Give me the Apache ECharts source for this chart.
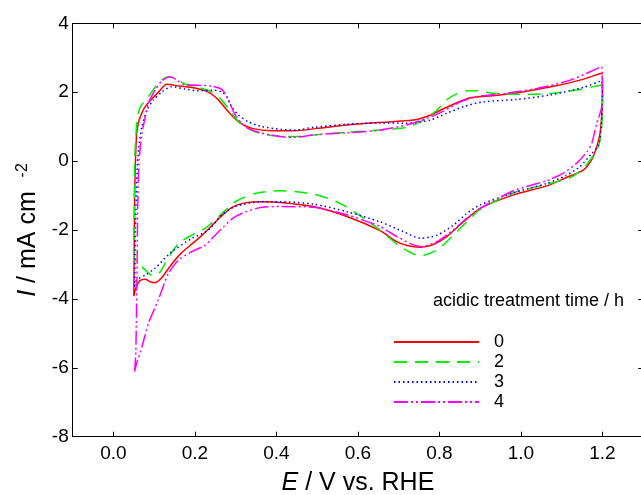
<!DOCTYPE html>
<html>
<head>
<meta charset="utf-8">
<script src="https://cdn.jsdelivr.net/npm/echarts@6/dist/echarts.min.js"></script>
<style>
  html, body { margin: 0; padding: 0; background: #fff; }
  #chart { width: 641px; height: 495px; }
</style>
</head>
<body>
<div id="chart"></div>
<script>
// potential E (V vs. RHE) and current I (mA cm-2), loop: anodic then cathodic
var e0 = [0.050, 0.051, 0.052, 0.054, 0.057, 0.062, 0.070, 0.078, 0.090, 0.111, 0.131, 0.160, 0.200, 0.233, 0.258, 0.282, 0.307, 0.340, 0.389, 0.446, 0.500, 0.573, 0.650, 0.736, 0.777, 0.810, 0.840, 0.876, 0.930, 1.000, 1.080, 1.145, 1.198,
  1.200, 1.198, 1.194, 1.186, 1.174, 1.153, 1.113, 1.063, 0.982, 0.900, 0.859, 0.818, 0.785, 0.753, 0.720, 0.695, 0.654, 0.573, 0.491, 0.409, 0.364, 0.320, 0.290, 0.260, 0.235, 0.213, 0.188, 0.164, 0.139, 0.119, 0.102, 0.090, 0.078, 0.065, 0.055, 0.050]
var i0 = [-3.92, -2.5, -1.0, 0.0, 0.8, 1.15, 1.40, 1.58, 1.75, 2.01, 2.23, 2.18, 2.12, 2.00, 1.77, 1.43, 1.14, 0.95, 0.88, 0.88, 0.95, 1.05, 1.12, 1.19, 1.33, 1.52, 1.68, 1.84, 1.90, 2.00, 2.17, 2.35, 2.55,
  2.0, 1.3, 0.8, 0.42, 0.05, -0.26, -0.47, -0.72, -0.98, -1.37, -1.76, -2.19, -2.42, -2.50, -2.45, -2.34, -2.02, -1.61, -1.32, -1.20, -1.18, -1.22, -1.35, -1.65, -1.95, -2.20, -2.45, -2.70, -3.05, -3.38, -3.53, -3.50, -3.43, -3.47, -3.69, -3.92]

var e2 = [0.050, 0.051, 0.052, 0.055, 0.058, 0.065, 0.075, 0.086, 0.110, 0.135, 0.151, 0.176, 0.209, 0.241, 0.266, 0.290, 0.315, 0.348, 0.389, 0.446, 0.491, 0.573, 0.654, 0.720, 0.761, 0.794, 0.818, 0.845, 0.870, 0.892, 0.933, 1.000, 1.080, 1.145, 1.198,
  1.200, 1.198, 1.192, 1.182, 1.174, 1.153, 1.121, 1.063, 0.982, 0.900, 0.867, 0.834, 0.794, 0.753, 0.704, 0.654, 0.597, 0.548, 0.491, 0.409, 0.348, 0.299, 0.258, 0.225, 0.192, 0.160, 0.131, 0.115, 0.098, 0.078, 0.060, 0.053, 0.050]
var i2 = [-2.9, -1.5, 0.0, 0.7, 1.2, 1.55, 1.72, 1.87, 2.26, 2.45, 2.40, 2.24, 2.14, 2.01, 1.77, 1.39, 1.05, 0.85, 0.74, 0.71, 0.76, 0.84, 0.90, 0.98, 1.19, 1.48, 1.78, 1.97, 2.04, 2.04, 1.97, 1.94, 1.97, 2.08, 2.21,
  1.6, 1.0, 0.5, 0.25, 0.10, -0.21, -0.48, -0.67, -0.92, -1.40, -1.76, -2.15, -2.58, -2.75, -2.48, -2.00, -1.52, -1.18, -0.96, -0.86, -0.94, -1.18, -1.61, -1.95, -2.15, -2.39, -2.87, -3.21, -3.34, -3.16, -2.95, -2.87, -2.9]

var e3 = [0.052, 0.054, 0.056, 0.058, 0.062, 0.070, 0.082, 0.098, 0.119, 0.143, 0.176, 0.209, 0.241, 0.266, 0.278, 0.290, 0.307, 0.331, 0.364, 0.413, 0.446, 0.491, 0.573, 0.654, 0.720, 0.777, 0.818, 0.859, 0.908, 0.990, 1.072, 1.153, 1.198,
  1.200, 1.197, 1.190, 1.172, 1.145, 1.110, 1.063, 0.982, 0.900, 0.867, 0.834, 0.794, 0.753, 0.712, 0.654, 0.573, 0.491, 0.409, 0.364, 0.299, 0.266, 0.233, 0.192, 0.143, 0.102, 0.078, 0.057, 0.052]
var i3 = [-3.65, -2.0, -1.0, -0.3, 0.4, 1.00, 1.48, 1.77, 2.01, 2.16, 2.09, 2.04, 2.06, 2.01, 1.87, 1.58, 1.34, 1.14, 1.00, 0.92, 0.90, 0.98, 1.07, 1.11, 1.10, 1.19, 1.39, 1.58, 1.72, 1.79, 1.92, 2.14, 2.33,
  1.8, 1.0, 0.45, 0.2, -0.16, -0.42, -0.65, -0.92, -1.27, -1.52, -1.86, -2.15, -2.24, -2.05, -1.76, -1.47, -1.25, -1.18, -1.18, -1.32, -1.56, -2.0, -2.25, -2.63, -3.11, -3.31, -3.45, -3.65]

var e4 = [0.052, 0.055, 0.058, 0.060, 0.063, 0.070, 0.074, 0.086, 0.102, 0.119, 0.139, 0.156, 0.176, 0.209, 0.241, 0.266, 0.282, 0.299, 0.323, 0.364, 0.413, 0.446, 0.491, 0.573, 0.654, 0.720, 0.769, 0.810, 0.851, 0.892, 0.965, 1.039, 1.121, 1.198,
  1.200, 1.197, 1.186, 1.174, 1.162, 1.137, 1.104, 1.063, 0.982, 0.900, 0.867, 0.834, 0.794, 0.753, 0.695, 0.654, 0.573, 0.491, 0.409, 0.364, 0.299, 0.258, 0.225, 0.192, 0.160, 0.135, 0.110, 0.086, 0.070, 0.057, 0.052]
var i4 = [-6.11, -5.5, -3.0, -1.0, 0.03, 0.81, 1.05, 1.68, 2.06, 2.33, 2.45, 2.35, 2.21, 2.20, 2.18, 2.08, 1.77, 1.34, 1.00, 0.81, 0.71, 0.69, 0.76, 0.82, 0.90, 1.05, 1.24, 1.45, 1.72, 1.87, 1.97, 2.11, 2.35, 2.74,
  2.0, 1.5, 1.10, 0.52, 0.27, -0.06, -0.35, -0.57, -0.86, -1.37, -1.66, -2.00, -2.34, -2.48, -2.19, -1.90, -1.56, -1.34, -1.32, -1.34, -1.61, -2.05, -2.44, -2.63, -2.87, -3.26, -4.03, -4.71, -5.39, -5.87, -6.11]

var names = ['0', '2', '3', '4']
var colors = ['#ff0000', '#00ee00', '#0000ff', '#ff00ff']
var dashes = ['solid', [13, 8], [1.5, 3], [14, 3, 2, 3, 2, 3]]
var xTicks = [0, 0.2, 0.4, 0.6, 0.8, 1.0, 1.2]

function pairs (xs, ys) {
  var out = []
  for (var k = 0; k < xs.length; k++) out.push([xs[k], ys[k]])
  return out
}

var loops = [pairs(e0, i0), pairs(e2, i2), pairs(e3, i3), pairs(e4, i4)]
var font = 'Liberation Sans'

var series = loops.map(function (d, k) {
  return {
    name: names[k],
    type: 'line',
    data: d,
    smooth: 0.25,
    symbol: 'none',
    lineStyle: { color: colors[k], width: 1.5, type: dashes[k] },
    itemStyle: { color: colors[k] },
    animation: false
  }
})

var axisLine = { show: true, onZero: false, lineStyle: { color: '#000', width: 1 } }

var myChart = echarts.init(document.getElementById('chart'))
myChart.setOption({
  backgroundColor: '#fff',
  textStyle: { fontFamily: font, color: '#000' },
  grid: { left: 72.7, top: 23.3, width: 570.5, height: 413.4, outerBoundsMode: 'none', containLabel: false },
  legend: {
    orient: 'vertical',
    left: 388,
    top: 327,
    itemWidth: 85,
    itemHeight: 2,
    itemGap: 0,
    itemStyle: { opacity: 0 },
    formatter: '  {name}',
    textStyle: { fontSize: 18, lineHeight: 20, color: '#000', fontFamily: font },
    data: names
  },
  graphic: [{
    type: 'text',
    left: 433,
    top: 292,
    style: { text: 'acidic treatment time / h', font: '18px "Liberation Sans"', fill: '#000' }
  }],
  xAxis: [{
    type: 'value',
    min: -0.1,
    max: 1.3,
    name: '{i|E} / V vs. RHE',
    nameLocation: 'middle',
    nameGap: 34,
    nameTextStyle: { fontSize: 25, color: '#000', rich: { i: { fontSize: 25, fontStyle: 'italic' } } },
    axisLine: axisLine,
    axisTick: { inside: true, length: 5, customValues: xTicks, lineStyle: { color: '#000' } },
    axisLabel: { customValues: xTicks, fontSize: 19, color: '#000', margin: 8, formatter: function (v) { return v.toFixed(1) } },
    splitLine: { show: false }
  }, {
    type: 'value',
    position: 'top',
    min: -0.1,
    max: 1.3,
    axisLine: axisLine,
    axisTick: { inside: true, length: 5, customValues: xTicks, lineStyle: { color: '#000' } },
    axisLabel: { show: false },
    splitLine: { show: false }
  }],
  yAxis: [{
    type: 'value',
    min: -8,
    max: 4,
    interval: 2,
    name: '{i|I} / mA cm  {s|-2}',
    nameLocation: 'middle',
    nameGap: 30,
    nameTextStyle: { fontSize: 25, color: '#000', rich: { i: { fontSize: 25, fontStyle: 'italic' }, s: { fontSize: 16, padding: [0, 0, 11, 0] } } },
    axisLine: axisLine,
    axisTick: { inside: true, length: 5, lineStyle: { color: '#000' } },
    axisLabel: { fontSize: 19, color: '#000', margin: 4 },
    splitLine: { show: false }
  }, {
    type: 'value',
    position: 'right',
    min: -8,
    max: 4,
    interval: 2,
    axisLine: axisLine,
    axisTick: { inside: true, length: 5, lineStyle: { color: '#000' } },
    axisLabel: { show: false },
    splitLine: { show: false }
  }],
  series: series
})
</script>
</body>
</html>
